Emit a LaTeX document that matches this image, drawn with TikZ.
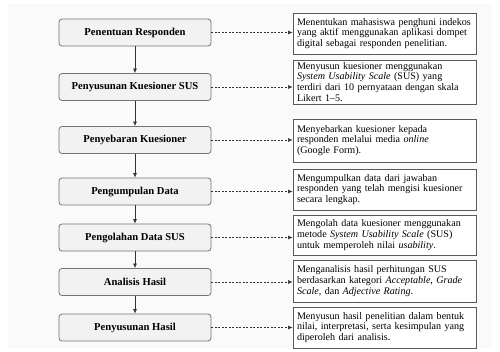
\documentclass[tikz,border=0pt]{standalone}
\usepackage{fontspec}
\setmainfont{Liberation Serif}
\usetikzlibrary{arrows.meta}
\tikzset{
  stepbox/.style={draw=black!55, fill=black!5, rounded corners=3pt, line width=0.8pt,
    minimum width=152pt, minimum height=27pt, inner sep=0pt, font=\fontsize{10.6}{12}\selectfont\bfseries},
  descbox/.style={draw=black!65, fill=white, line width=0.8pt, minimum width=183pt,
    text width=175pt, inner xsep=4pt, inner ysep=2pt, align=left,
    font=\fontsize{10.1}{10.9}\selectfont},
  flow/.style={draw=black!80, line width=0.7pt, -{Latex[length=4.5pt,width=4pt]}},
  link/.style={draw=black!80, line width=0.6pt, dash pattern=on 2pt off 1.5pt, -{Latex[length=4.5pt,width=4pt]}}
}
\begin{document}
\begin{tikzpicture}[x=1pt,y=-1pt]
\useasboundingbox (0,0) rectangle (500,351);
\fill[black!2] (8,4) rectangle (492,348);
\node[stepbox] (L1) at (135,32.5) {Penentuan Responden};
\node[stepbox] (L2) at (135,87) {Penyusunan Kuesioner SUS};
\node[stepbox] (L3) at (135,140) {Penyebaran Kuesioner};
\node[stepbox] (L4) at (135,191.5) {Pengumpulan Data};
\node[stepbox] (L5) at (135,237.5) {Pengolahan Data SUS};
\node[stepbox] (L6) at (135,282) {Analisis Hasil};
\node[stepbox] (L7) at (135,327.5) {Penyusunan Hasil};

\node[descbox, minimum height=41pt] (R1) at (384.5,33.5) {\mbox{Menentukan mahasiswa penghuni indekos}\\ yang aktif menggunakan aplikasi dompet\\ digital sebagai responden penelitian.};
\node[descbox, minimum height=44pt] (R2) at (384.5,82) {Menyusun kuesioner menggunakan\\ \textit{System Usability Scale} (SUS) yang\\ terdiri dari 10 pernyataan dengan skala\\ Likert 1--5.};
\node[descbox, minimum height=43pt] (R3) at (384.5,140.5) {Menyebarkan kuesioner kepada\\ responden melalui media \textit{online}\\ (Google Form).};
\node[descbox, minimum height=41pt] (R4) at (384.5,189.5) {Mengumpulkan data dari jawaban\\ responden yang telah mengisi kuesioner\\ secara lengkap.};
\node[descbox, minimum height=40pt] (R5) at (384.5,235) {Mengolah data kuesioner menggunakan\\ metode \textit{System Usability Scale} (SUS)\\ untuk memperoleh nilai \textit{usability}.};
\node[descbox, minimum height=42pt] (R6) at (384.5,281) {Menganalisis hasil perhitungan SUS\\ berdasarkan kategori \textit{Acceptable}, \textit{Grade}\\ \textit{Scale}, dan \textit{Adjective Rating}.};
\node[descbox, minimum height=41pt] (R7) at (384.5,327.5) {Menyusun hasil penelitian dalam bentuk\\ \mbox{nilai, interpretasi, serta kesimpulan yang}\\ diperoleh dari analisis.};

\draw[flow] (L1) -- (L2);
\draw[flow] (L2) -- (L3);
\draw[flow] (L3) -- (L4);
\draw[flow] (L4) -- (L5);
\draw[flow] (L5) -- (L6);
\draw[flow] (L6) -- (L7);

\foreach \i in {1,...,7}{
  \draw[link] (L\i.east) -- (L\i.east -| R\i.west);
}
\end{tikzpicture}
\end{document}
